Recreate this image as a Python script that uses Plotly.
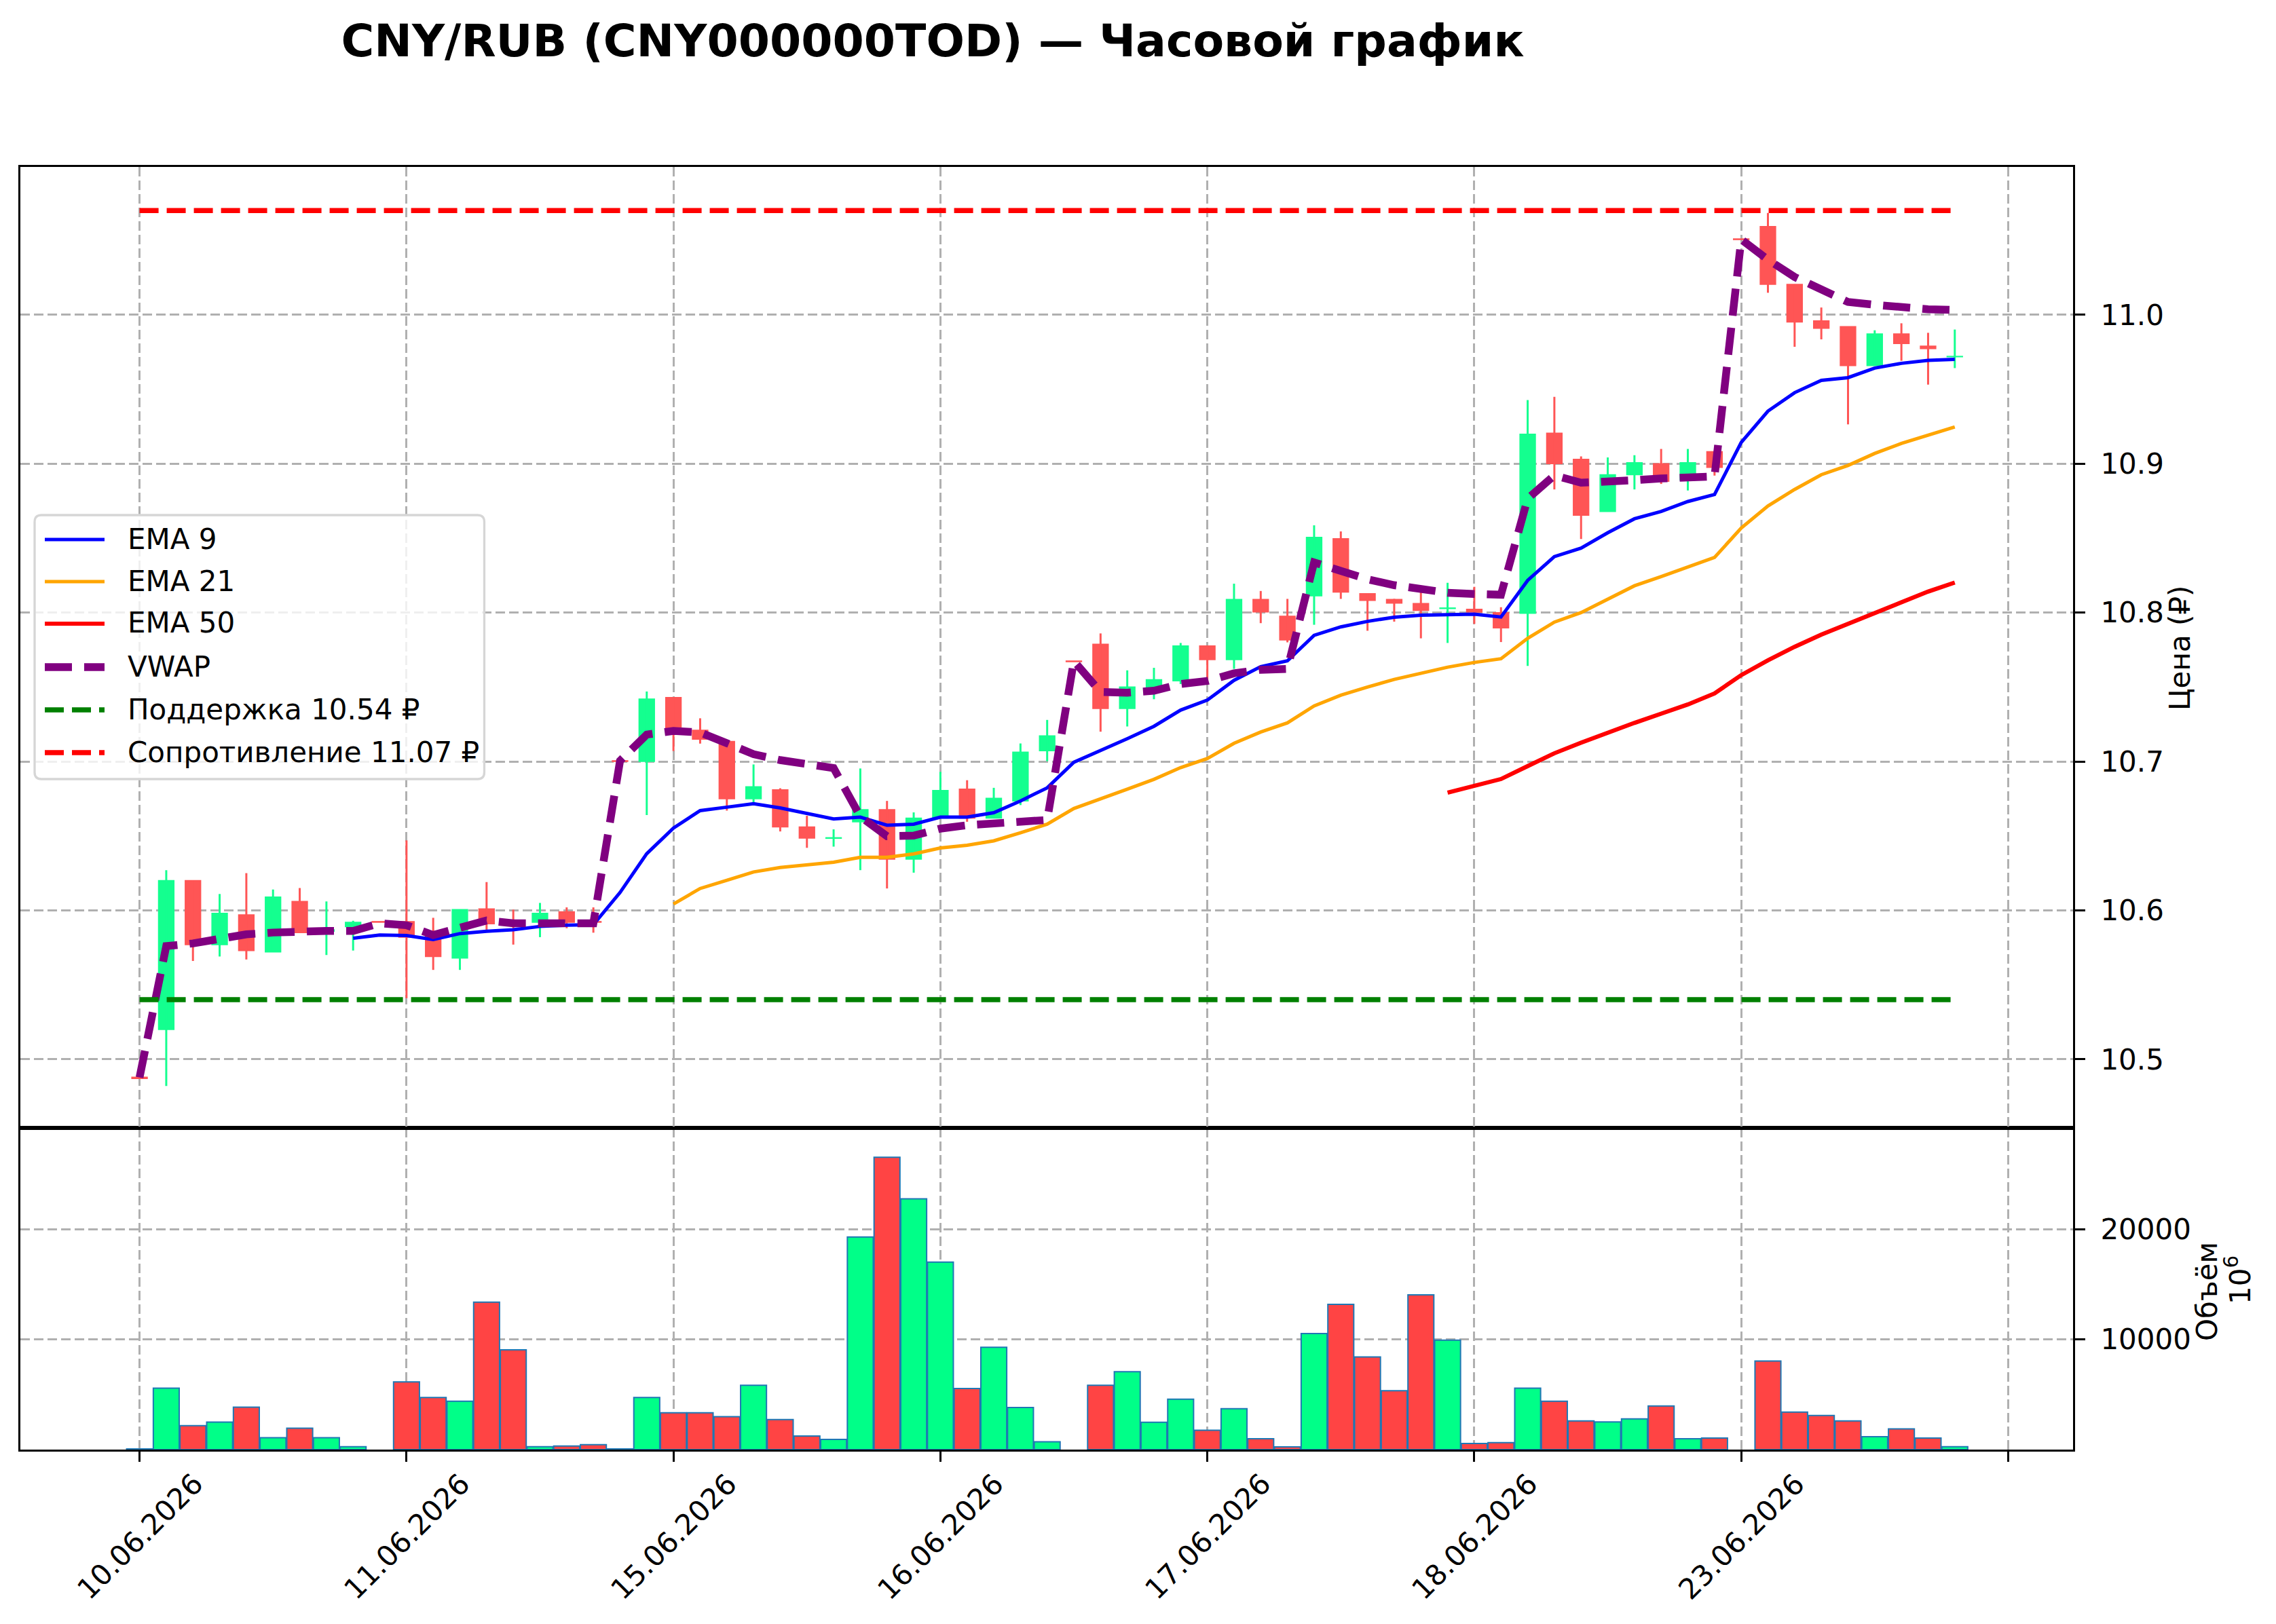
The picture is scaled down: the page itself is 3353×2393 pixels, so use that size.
import plotly.graph_objects as go

# ---------------- data ----------------
tick_labels = ["10.06.2026", "11.06.2026", "15.06.2026", "16.06.2026",
               "17.06.2026", "18.06.2026", "23.06.2026"]
tick_positions = [0, 10, 20, 30, 40, 50, 60, 70]

open_ = [10.488, 10.520, 10.620, 10.577, 10.597, 10.572, 10.606, 10.586, 10.589, 10.5925,
         10.5925, 10.586, 10.568, 10.601, 10.5915, 10.592, 10.599, 10.5925, 10.7005, 10.700,
         10.743, 10.721, 10.7135, 10.675, 10.681, 10.656, 10.6484, 10.6595, 10.6677, 10.6344,
         10.6619, 10.6814, 10.6619, 10.6735, 10.7072, 10.7675, 10.7788, 10.7356, 10.749, 10.7541,
         10.7776, 10.7684, 10.8088, 10.7976, 10.8112, 10.8496, 10.8127, 10.8088, 10.8061, 10.8027,
         10.8022, 10.800, 10.7995, 10.9205, 10.903, 10.8679, 10.8926, 10.900, 10.8889, 10.9081,
         11.0510, 11.0593, 11.0205, 10.996, 10.9921, 10.9659, 10.9872, 10.979, 10.9718]
high = [10.488, 10.627, 10.620, 10.611, 10.625, 10.614, 10.615, 10.606, 10.593, 10.5925,
        10.647, 10.595, 10.6005, 10.619, 10.6005, 10.605, 10.602, 10.602, 10.7005, 10.747,
        10.743, 10.729, 10.7135, 10.698, 10.682, 10.6635, 10.6544, 10.6953, 10.6735, 10.6658,
        10.693, 10.6874, 10.6823, 10.7121, 10.7279, 10.7675, 10.786, 10.7612, 10.7629, 10.7796,
        10.7776, 10.8194, 10.8145, 10.8092, 10.8586, 10.8545, 10.8127, 10.8092, 10.818, 10.820,
        10.8173, 10.8036, 10.9427, 10.9449, 10.9049, 10.9042, 10.9057, 10.9099, 10.9099, 10.9081,
        11.0510, 11.0684, 11.0205, 11.0049, 10.9921, 10.9896, 10.9943, 10.9879, 10.9901]
low = [10.487, 10.482, 10.566, 10.569, 10.567, 10.572, 10.585, 10.570, 10.573, 10.592,
       10.541, 10.560, 10.560, 10.587, 10.577, 10.582, 10.588, 10.585, 10.700, 10.664,
       10.707, 10.712, 10.667, 10.672, 10.653, 10.642, 10.6428, 10.627, 10.6147, 10.6253,
       10.6619, 10.6595, 10.6619, 10.6707, 10.7002, 10.767, 10.720, 10.7235, 10.7418, 10.752,
       10.752, 10.7622, 10.7929, 10.780, 10.7918, 10.8092, 10.7878, 10.7939, 10.7827, 10.7796,
       10.7924, 10.7802, 10.7642, 10.8827, 10.8494, 10.8679, 10.8827, 10.8864, 10.882, 10.892,
       11.0505, 11.0148, 10.9785, 10.9835, 10.9264, 10.9659, 10.9691, 10.9531, 10.9642]
close = [10.487, 10.620, 10.577, 10.598, 10.573, 10.609, 10.585, 10.587, 10.592, 10.592,
         10.582, 10.569, 10.6005, 10.591, 10.5905, 10.598, 10.592, 10.592, 10.700, 10.742,
         10.720, 10.715, 10.675, 10.683, 10.656, 10.6485, 10.6488, 10.6677, 10.6344, 10.6619,
         10.6805, 10.6619, 10.6753, 10.7063, 10.7172, 10.767, 10.7356, 10.750, 10.7549, 10.7776,
         10.7684, 10.8088, 10.8004, 10.7816, 10.8506, 10.8137, 10.8082, 10.8063, 10.8014, 10.8031,
         10.8003, 10.7897, 10.9198, 10.900, 10.8654, 10.8926, 10.9007, 10.8881, 10.9007, 10.8975,
         11.0505, 11.0205, 10.9951, 10.9909, 10.9659, 10.9872, 10.9807, 10.9773, 10.9721]
volume = [60, 5567, 2165, 2495, 3856, 1072, 1938, 1072, 268, None,
          6144, 4722, 4392, 13381, 9052, 268, 330, 454, 60, 4722,
          3340, 3340, 2990, 5835, 2722, 1237, 928, 19299, 26536, 22763,
          17010, 5546, 9278, 3814, 701, None, 5835, 7072, 2474, 4577,
          1753, 3711, 990, 247, 10536, 13175, 8412, 5340, 14041, 9938,
          557, 639, 5567, 4392, 2598, 2515, 2784, 3959, 990, 1052,
          None, 8041, 3402, 3093, 2598, 1175, 1876, 1052, 268]
ema9 = [None] * 8 + [
    10.5813, 10.5834, 10.5831, 10.5804, 10.5844, 10.586, 10.587, 10.5892, 10.590, 10.5904,
    10.612, 10.6381, 10.6553, 10.667, 10.6693, 10.6716, 10.6688, 10.6651, 10.6614, 10.6626,
    10.6572, 10.6579, 10.6626, 10.6626, 10.6656, 10.6735, 10.6823, 10.6995, 10.7072, 10.7153,
    10.7236, 10.7345, 10.7412, 10.7545, 10.7637, 10.7676, 10.7847, 10.7904, 10.7941, 10.7969,
    10.7982, 10.7988, 10.7989, 10.797, 10.8216, 10.8376, 10.8433, 10.8536, 10.863, 10.8679,
    10.8746, 10.8793, 10.9143, 10.9353, 10.9477, 10.956, 10.9578, 10.9642, 10.9674, 10.9694,
    10.9701]
ema21 = [None] * 20 + [
    10.6042, 10.6147, 10.6202, 10.6258, 10.6288, 10.6305, 10.6323, 10.6356, 10.6356, 10.6379,
    10.6419, 10.6437, 10.6467, 10.6521, 10.6579, 10.6684, 10.6747, 10.6814, 10.688, 10.6959,
    10.702, 10.7122, 10.7198, 10.7259, 10.7373, 10.7445, 10.750, 10.7551, 10.7592, 10.7633,
    10.7665, 10.769, 10.7827, 10.7936, 10.800, 10.809, 10.818, 10.8242, 10.8309, 10.837,
    10.8568, 10.8716, 10.8827, 10.8926, 10.8988, 10.9069, 10.9136, 10.9193, 10.9247]
ema50 = [None] * 49 + [
    10.679, 10.6837, 10.6882, 10.6969, 10.7055, 10.7126, 10.7194, 10.7259, 10.7321, 10.7383,
    10.7457, 10.758, 10.7679, 10.777, 10.7852, 10.7926, 10.800, 10.8074, 10.8141, 10.8202]
vwap = [10.4878, 10.576, 10.5778, 10.5809, 10.5839, 10.5851, 10.5862, 10.5862, 10.5862, 10.5913,
        10.590, 10.5834, 10.5883, 10.5932, 10.5913, 10.5913, 10.5913, 10.5913, 10.7005, 10.7181,
        10.7205, 10.7195, 10.7123, 10.7049, 10.7009, 10.6979, 10.6956, 10.663, 10.6498, 10.6502,
        10.6549, 10.6572, 10.6586, 10.660, 10.6607, 10.7675, 10.7467, 10.7462, 10.7475, 10.752,
        10.7541, 10.7592, 10.7616, 10.7622, 10.8337, 10.828, 10.8224, 10.8184, 10.8153, 10.8133,
        10.8125, 10.812, 10.8765, 10.8921, 10.8872, 10.8877, 10.8889, 10.8901, 10.8906, 10.8914,
        11.0506, 11.037, 11.0254, 11.0173, 11.0086, 11.0067, 11.0049, 11.0037, 11.0032]
support = 10.54
resistance = 11.07
price_ticks = [10.5, 10.6, 10.7, 10.8, 10.9, 11.0]
volume_ticks = [10000, 20000]

# ---------------- styling ----------------
W, H = 3353, 2393
PL, PR, PT, PB = 30, 3054, 246, 2136   # plot area in pixels
SPLIT = 1662.4                          # price / volume boundary


def px_x(px):
    return (px - PL) / (PR - PL)


def px_y(py):
    return (PB - py) / (PB - PT)


GREEN_BODY, RED_BODY = "#14ff8f", "#ff5555"
GREEN_VOL, RED_VOL = "#00ff88", "#ff4444"
FONT = "DejaVu Sans"

x = list(range(len(open_)))
up = [c >= o for o, c in zip(open_, close)]

fig = go.Figure()

# volume bars
fig.add_trace(go.Bar(
    x=x, y=volume, width=0.97,
    marker=dict(color=[GREEN_VOL if u else RED_VOL for u in up],
                line=dict(color="#1f77b4", width=2)),
    xaxis="x", yaxis="y", showlegend=False, hoverinfo="skip"))

# candle wicks
for flag, col in ((True, GREEN_BODY), (False, RED_BODY)):
    wx, wy = [], []
    for i in x:
        if up[i] == flag:
            wx += [i, i, None]
            wy += [low[i], high[i], None]
    fig.add_trace(go.Scatter(x=wx, y=wy, mode="lines", line=dict(color=col, width=3),
                             xaxis="x2", yaxis="y2", showlegend=False, hoverinfo="skip"))

# candle bodies
fig.add_trace(go.Bar(
    x=x,
    base=[min(o, c) for o, c in zip(open_, close)],
    y=[abs(c - o) for o, c in zip(open_, close)],
    width=0.58,
    marker=dict(color=[GREEN_BODY if u else RED_BODY for u in up],
                line=dict(color=[GREEN_BODY if u else RED_BODY for u in up], width=1.5)),
    xaxis="x2", yaxis="y2", showlegend=False, hoverinfo="skip"))

# indicator lines
line_specs = [
    ("EMA 9", ema9, dict(color="blue", width=5)),
    ("EMA 21", ema21, dict(color="orange", width=5)),
    ("EMA 50", ema50, dict(color="red", width=6.2)),
    ("VWAP", vwap, dict(color="purple", width=11.5, dash="40px,18px")),
]
for name, vals, ln in line_specs:
    fig.add_trace(go.Scatter(x=x, y=vals, mode="lines", name=name, line=ln,
                             xaxis="x2", yaxis="y2", showlegend=False))

sr_specs = [
    (f"Поддержка {support:.2f} ₽", support, dict(color="green", width=7.5, dash="28px,12px")),
    (f"Сопротивление {resistance:.2f} ₽", resistance, dict(color="red", width=7.5, dash="28px,12px")),
]
for name, lvl, ln in sr_specs:
    fig.add_trace(go.Scatter(x=[x[0], x[-1]], y=[lvl, lvl], mode="lines", name=name, line=ln,
                             xaxis="x2", yaxis="y2", showlegend=False))

# ---------------- axes ----------------
dom_split = px_y(SPLIT)
grid = dict(showgrid=True, gridcolor="#b0b0b0", gridwidth=3, griddash="14px,6px")
frame = dict(showline=True, linecolor="black", linewidth=3, mirror=True, zeroline=False)
tickstyle = dict(ticks="outside", ticklen=15, tickwidth=3, tickcolor="black")
xr = [-4.465, 72.43]

layout = dict(
    width=W, height=H,
    margin=dict(l=PL, r=W - PR, t=PT, b=H - PB, pad=0),
    paper_bgcolor="white", plot_bgcolor="white",
    font=dict(family=FONT, size=42, color="black"),
    barmode="overlay",
    showlegend=False,
    xaxis=dict(domain=[0, 1], anchor="y", range=xr, tickmode="array",
               tickvals=tick_positions, showticklabels=False, **grid, **frame, **tickstyle),
    xaxis2=dict(domain=[0, 1], anchor="y2", range=xr, matches="x", tickmode="array",
                tickvals=tick_positions, showticklabels=False, ticks="", **grid, **frame),
    yaxis=dict(domain=[0, dom_split], anchor="x", side="right", range=[0, 29170],
               tickmode="array", tickvals=volume_ticks, ticktext=[str(v) for v in volume_ticks],
               ticklabelstandoff=14, **grid, **frame, **tickstyle),
    yaxis2=dict(domain=[dom_split, 1], anchor="x2", side="right", range=[10.4537, 11.0993],
                tickmode="array", tickvals=price_ticks, ticktext=[f"{v:.1f}" for v in price_ticks],
                ticklabelstandoff=14, **grid, **frame, **tickstyle),
    title=dict(text="<b>CNY/RUB (CNY000000TOD) — Часовой график</b>",
               xref="container", yref="container", x=1374 / W, y=1 - 60 / H,
               xanchor="center", yanchor="middle", font=dict(size=66.5, family=FONT)),
)
fig.update_layout(**layout)

annotations = []
# x tick labels (rotated, centred on the tick like the reference)
for pos, lab in zip(tick_positions, tick_labels):
    annotations.append(dict(x=pos, xref="x", y=px_y(2264), yref="paper", text=lab,
                            textangle=-45, xanchor="center", yanchor="middle",
                            showarrow=False, font=dict(size=42)))
# axis titles
annotations.append(dict(x=px_x(3211), y=px_y(954), xref="paper", yref="paper",
                        text="Цена (₽)", textangle=-90, showarrow=False,
                        xanchor="center", yanchor="middle", font=dict(size=42)))
annotations.append(dict(x=px_x(3251), y=px_y(1903), xref="paper", yref="paper",
                        text="Объём", textangle=-90, showarrow=False,
                        xanchor="center", yanchor="middle", font=dict(size=42)))
annotations.append(dict(x=px_x(3297), y=px_y(1886), xref="paper", yref="paper",
                        text="10<sup>6</sup>", textangle=-90, showarrow=False,
                        xanchor="center", yanchor="middle", font=dict(size=42)))

# ---------------- legend (drawn like matplotlib's) ----------------
shapes = []
lx0, lx1, ly0, ly1, r = 51, 713.5, 759, 1148, 10
rx, ry = r / (PR - PL), r / (PB - PT)
X0, X1, Y0, Y1 = px_x(lx0), px_x(lx1), px_y(ly1), px_y(ly0)
path = (f"M {X0 + rx},{Y0} L {X1 - rx},{Y0} Q {X1},{Y0} {X1},{Y0 + ry} "
        f"L {X1},{Y1 - ry} Q {X1},{Y1} {X1 - rx},{Y1} L {X0 + rx},{Y1} "
        f"Q {X0},{Y1} {X0},{Y1 - ry} L {X0},{Y0 + ry} Q {X0},{Y0} {X0 + rx},{Y0} Z")
shapes.append(dict(type="path", path=path, xref="paper", yref="paper",
                   fillcolor="rgba(255,255,255,0.8)", line=dict(color="#d6d6d6", width=3.3),
                   layer="above"))
entries = [(n, ln) for n, _, ln in line_specs] + [(n, ln) for n, _, ln in sr_specs]
row_y = [795, 857, 919, 983, 1046, 1109]
for (name, ln), yy in zip(entries, row_y):
    shapes.append(dict(type="line", xref="paper", yref="paper",
                       x0=px_x(66), x1=px_x(154), y0=px_y(yy), y1=px_y(yy),
                       line=dict(color=ln["color"], width=ln["width"], dash=ln.get("dash", "solid")),
                       layer="above"))
    annotations.append(dict(x=px_x(186), y=px_y(yy - 1), xref="paper", yref="paper", text=name,
                            showarrow=False, xanchor="left", yanchor="middle",
                            font=dict(size=42)))

fig.update_layout(shapes=shapes, annotations=annotations)
fig.write_html("out.html")
